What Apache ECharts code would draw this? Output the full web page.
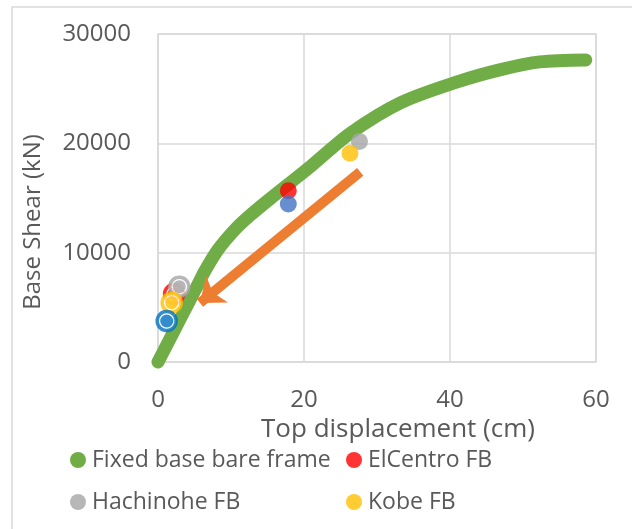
<!DOCTYPE html>
<html>
<head>
<meta charset="utf-8">
<script src="https://cdn.jsdelivr.net/npm/echarts@6/dist/echarts.min.js"></script>
<style>
  html, body { margin: 0; padding: 0; background: #ffffff; }
  #chart { width: 632px; height: 529px; }
</style>
</head>
<body>
<div id="chart"></div>
<script>
// Pushover curve of the fixed-base bare frame: top displacement (cm) vs base shear (kN)
const pushoverDisp  = [0, 2.4, 4.4, 5.3, 6.4, 8.2, 10.5, 12.6, 15.3, 18.4, 21.1, 26.3, 33.2, 41.0, 46.8, 52.3, 58.6];
const pushoverShear = [0, 3100, 5700, 6860, 8300, 10250, 12080, 13400, 14900, 16550, 18000, 20900, 23700, 25620, 26720, 27450, 27630];

// Peak responses (solid dots) per ground motion: [displacement, shear]
const elCentroPeak  = [[17.85, 15670]];
const hachinohePeak = [[27.6, 20160]];
const kobePeak      = [[26.3, 19090]];
const bluePeak      = [[17.85, 14450]];

// Reduced responses (ringed dots) per ground motion
const elCentroRing  = [[2.2, 6220]];
const hachinoheRing = [[2.92, 6890]];
const kobeRing      = [[1.87, 5430]];
const blueRing      = [[1.19, 3750]];

// Arrow annotation: from [disp, shear] to [disp, shear]
const arrowFrom = [27.7, 17380];
const arrowTo   = [5.75, 5400];

// Axis ranges and tick steps
const xRange = [0, 60], xStep = 20;
const yRange = [0, 30000], yStep = 10000;

const FONT = 'Open Sans';
const TXT = '#595959';
const GRIDC = '#d9d9d9';

const C = {
  green: '#70AD47', red: '#FF0000', gray: '#A5A5A5', yellow: '#FFC000',
  blue: '#4472C4', darkBlue: '#0070C0', orange: '#ED7D31'
};

function pairs(xs, ys) { return xs.map((x, i) => [x, ys[i]]); }

function dotSeries(name, data, color) {
  return {
    type: 'scatter', name: name, data: data, symbol: 'circle', symbolSize: 17,
    itemStyle: { color: color }, clip: false, silent: true, z: 4
  };
}
function ringSeries(name, data, color) {
  return [
    { type: 'scatter', name: name, data: data, symbol: 'circle', symbolSize: 19,
      itemStyle: { color: '#ffffff', borderColor: color, borderWidth: 3.5 },
      clip: false, silent: true, z: 4 },
    { type: 'scatter', name: name, data: data, symbol: 'circle', symbolSize: 13,
      itemStyle: { color: color }, clip: false, silent: true, z: 4 }
  ];
}

const chart = echarts.init(document.getElementById('chart'), null, { renderer: 'canvas' });

const legendText = { fontFamily: FONT, fontSize: 23, color: TXT, lineHeight: 26, padding: [0, 0, 0, 1] };

const option = {
  animation: false,
  textStyle: { fontFamily: FONT },
  graphic: [
    {
      type: 'rect', silent: true, z: -10,
      shape: { x: 12, y: 7, width: 660, height: 560 },
      style: { fill: 'none', stroke: GRIDC, lineWidth: 1.5 }
    },
    {
      // Value axis title, written bottom-to-top beside the plot
      type: 'text', silent: true, x: 33, y: 222, rotation: Math.PI / 2,
      style: {
        text: 'Base Shear (kN)', fontFamily: FONT, fontSize: 24, fill: TXT,
        align: 'center', verticalAlign: 'middle'
      }
    }
  ],
  grid: {
    left: 158, top: 34, right: 36, bottom: 167,
    show: true, borderColor: GRIDC, borderWidth: 1.5
  },
  legend: [
    {
      orient: 'vertical', left: 65, top: 442, itemGap: 16,
      icon: 'circle', itemWidth: 16, itemHeight: 16,
      textStyle: legendText, selectedMode: false,
      data: [
        { name: 'Fixed base bare frame', itemStyle: { color: C.green } },
        { name: 'Hachinohe FB', itemStyle: { color: C.gray, borderWidth: 0 } }
      ]
    },
    {
      orient: 'vertical', left: 341, top: 442, itemGap: 16,
      icon: 'circle', itemWidth: 16, itemHeight: 16,
      textStyle: legendText, selectedMode: false,
      data: [
        { name: 'ElCentro FB', itemStyle: { color: C.red, borderWidth: 0 } },
        { name: 'Kobe FB', itemStyle: { color: C.yellow, borderWidth: 0 } }
      ]
    }
  ],
  xAxis: {
    type: 'value', min: xRange[0], max: xRange[1], interval: xStep,
    name: 'Top displacement (cm)', nameLocation: 'middle', nameGap: 39,
    nameTextStyle: { fontFamily: FONT, fontSize: 26, color: TXT, padding: [0, 0, 0, 42] },
    axisLine: { show: false }, axisTick: { show: false },
    axisLabel: { fontFamily: FONT, fontSize: 24, color: TXT, margin: 26 },
    splitLine: { show: true, lineStyle: { color: GRIDC, width: 1.5 } }
  },
  yAxis: {
    type: 'value', min: yRange[0], max: yRange[1], interval: yStep,
    axisLine: { show: false }, axisTick: { show: false },
    axisLabel: {
      fontFamily: FONT, fontSize: 24, color: TXT, margin: 27,
      formatter: (v) => String(v)
    },
    splitLine: { show: true, lineStyle: { color: GRIDC, width: 1.5 } }
  },
  series: [
    {
      type: 'line', name: 'Fixed base bare frame',
      data: pairs(pushoverDisp, pushoverShear),
      smooth: 0.3, showSymbol: false, clip: false, silent: true, z: 2,
      itemStyle: { color: C.green },
      lineStyle: { color: C.green, width: 13, cap: 'round', join: 'round' }
    },
    dotSeries('ElCentro FB', elCentroPeak, C.red),
    dotSeries('Hachinohe FB', hachinohePeak, C.gray),
    dotSeries('Kobe FB', kobePeak, C.yellow),
    dotSeries('', bluePeak, C.blue),
    ...ringSeries('ElCentro FB', elCentroRing, C.red),
    ...ringSeries('Hachinohe FB', hachinoheRing, C.gray),
    ...ringSeries('Kobe FB', kobeRing, C.yellow),
    ...ringSeries('', blueRing, C.darkBlue),
    {
      type: 'line', name: 'arrow', data: [], silent: true, z: 5,
      markLine: {
        silent: true, animation: false,
        symbol: ['none', 'arrow'], symbolSize: [26, 22],
        label: { show: false },
        lineStyle: { color: C.orange, width: 10, type: 'solid' },
        data: [[{ coord: arrowFrom }, { coord: arrowTo }]]
      }
    }
  ]
};

chart.setOption(option);
</script>
</body>
</html>
